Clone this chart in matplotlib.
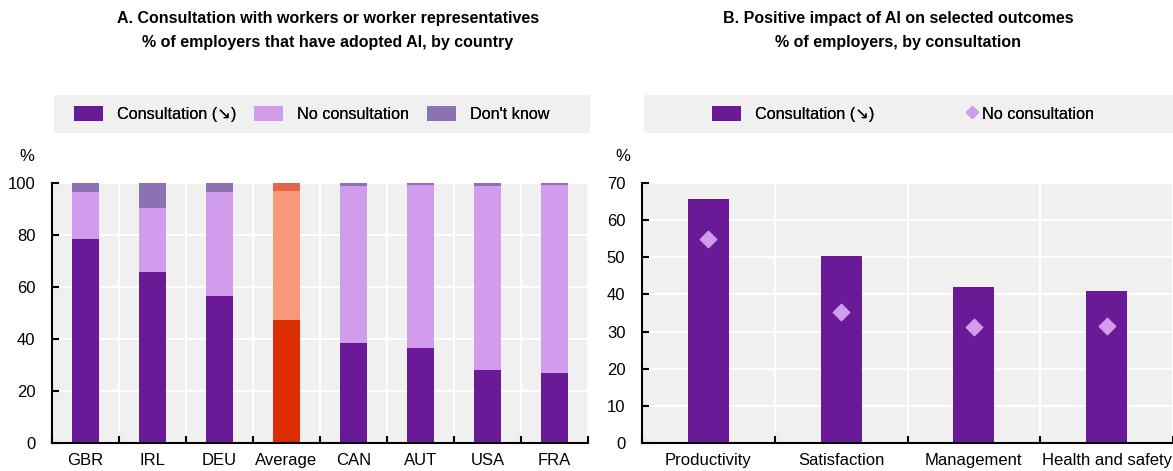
import matplotlib.pyplot as plt
import numpy as np
from matplotlib.patches import Patch, Rectangle
from matplotlib.lines import Line2D

plt.rcParams['font.family'] = ['Liberation Sans', 'DejaVu Sans']

# Panel A: share of employers by country
countries = ['GBR', 'IRL', 'DEU', 'Average', 'CAN', 'AUT', 'USA', 'FRA']
consult = [78.5, 65.8, 56.4, 47.3, 38.5, 36.7, 28.1, 26.9]
no_consult = [17.9, 24.6, 40.1, 49.8, 60.3, 62.4, 70.7, 72.5]
dont_know = [3.6, 9.6, 3.5, 2.9, 1.2, 0.9, 1.2, 0.6]

# Panel B: positive impact of AI
outcomes = ['Productivity', 'Satisfaction', 'Management', 'Health and safety']
outcome_consult = [65.8, 50.3, 41.9, 40.8]
outcome_no_consult = [54.8, 35.2, 31.2, 31.5]

C_CONS = '#6A1A96'
C_NO = '#D09CEB'
C_DK = '#8C72B4'
C_AVG = ['#DE2D00', '#F6997A', '#E4654B']
BG = '#F0F0F0'

W, H = 1173, 471
fig = plt.figure(figsize=(W / 100, H / 100), dpi=100)


def box(x0, y0, x1, y1):
    return [x0 / W, 1 - y1 / H, (x1 - x0) / W, (y1 - y0) / H]


def style_axes(ax, n, xmax, ymax, step):
    ax.set_facecolor(BG)
    for s in ['top', 'right']:
        ax.spines[s].set_visible(False)
    for s in ['left', 'bottom']:
        ax.spines[s].set_linewidth(1.5)
    ax.set_xlim(-0.5, xmax)
    ax.set_ylim(0, ymax)
    ax.set_yticks(np.arange(0, ymax + 1, step))
    ax.set_xticks(np.arange(n))
    ax.set_xticks(np.arange(n + 1) - 0.5, minor=True)
    ax.tick_params(axis='x', which='major', length=0, labelsize=12, pad=7)
    ax.tick_params(axis='x', which='minor', direction='in', length=5, width=1.5)
    ax.tick_params(axis='y', direction='in', length=5, width=1.5, labelsize=12, pad=12)
    ax.grid(axis='y', which='major', color='white', linewidth=1.5)
    ax.grid(axis='x', which='minor', color='white', linewidth=1.5)
    ax.set_axisbelow(True)


# Panel A
ax1 = fig.add_axes(box(52, 183, 588, 443))
x = np.arange(len(countries))
cons = np.array(consult)
no = np.array(no_consult)
dk = np.array(dont_know)
c1 = [C_AVG[0] if c == 'Average' else C_CONS for c in countries]
c2 = [C_AVG[1] if c == 'Average' else C_NO for c in countries]
c3 = [C_AVG[2] if c == 'Average' else C_DK for c in countries]
ax1.bar(x, cons, width=0.4, color=c1)
ax1.bar(x, no, width=0.4, bottom=cons, color=c2)
ax1.bar(x, dk, width=0.4, bottom=cons + no, color=c3)
style_axes(ax1, len(countries), len(countries) - 0.5, 100, 20)
ax1.set_xticklabels(countries)

# Panel B
ax2 = fig.add_axes(box(642, 183, 1173, 443))
x2 = np.arange(len(outcomes))
ax2.bar(x2, outcome_consult, width=0.31, color=C_CONS)
ax2.scatter(x2, outcome_no_consult, marker='D', s=70, color=C_NO, zorder=3)
style_axes(ax2, len(outcomes), len(outcomes) - 0.5 - 5 / 134, 70, 10)
ax2.set_xticklabels(outcomes)

# "%" unit labels above the y axes
fig.text(27 / W, 1 - 157 / H, '%', ha='center', va='center', fontsize=12)
fig.text(623 / W, 1 - 157 / H, '%', ha='center', va='center', fontsize=12)

# Titles
fig.text(328 / W, 1 - 18 / H, 'A. Consultation with workers or worker representatives',
         ha='center', va='center', fontsize=11.5, fontweight='bold')
fig.text(328 / W, 1 - 42 / H, '% of employers that have adopted AI, by country',
         ha='center', va='center', fontsize=11.5, fontweight='bold')
fig.text(898 / W, 1 - 18 / H, 'B. Positive impact of AI on selected outcomes',
         ha='center', va='center', fontsize=11.5, fontweight='bold')
fig.text(898 / W, 1 - 42 / H, '% of employers, by consultation',
         ha='center', va='center', fontsize=11.5, fontweight='bold')

# Legend backgrounds
for x0, x1 in [(54, 590), (644, 1173)]:
    fig.patches.append(Rectangle((x0 / W, 1 - 133 / H), (x1 - x0) / W, 38 / H,
                                 transform=fig.transFigure, facecolor=BG,
                                 edgecolor='none', zorder=0))


def legend_item(handle, label, xpix, hlen, pad):
    leg = fig.legend([handle], [label], loc='center left',
                     bbox_to_anchor=(xpix / W, 1 - 114 / H), frameon=False,
                     fontsize=11.7, handlelength=hlen, handleheight=1.0,
                     handletextpad=pad, borderpad=0, borderaxespad=0)
    fig.add_artist(leg)


legend_item(Patch(facecolor=C_CONS), 'Consultation (\u2198)', 74, 1.8, 0.85)
legend_item(Patch(facecolor=C_NO), 'No consultation', 254, 1.8, 0.85)
legend_item(Patch(facecolor=C_DK), "Don't know", 427, 1.8, 0.85)
legend_item(Patch(facecolor=C_CONS), 'Consultation (\u2198)', 712, 1.8, 0.85)
legend_item(Line2D([], [], marker='D', linestyle='none', color=C_NO, markersize=6),
            'No consultation', 966, 0.7, 0.3)

fig.savefig('out.png', dpi=100)
